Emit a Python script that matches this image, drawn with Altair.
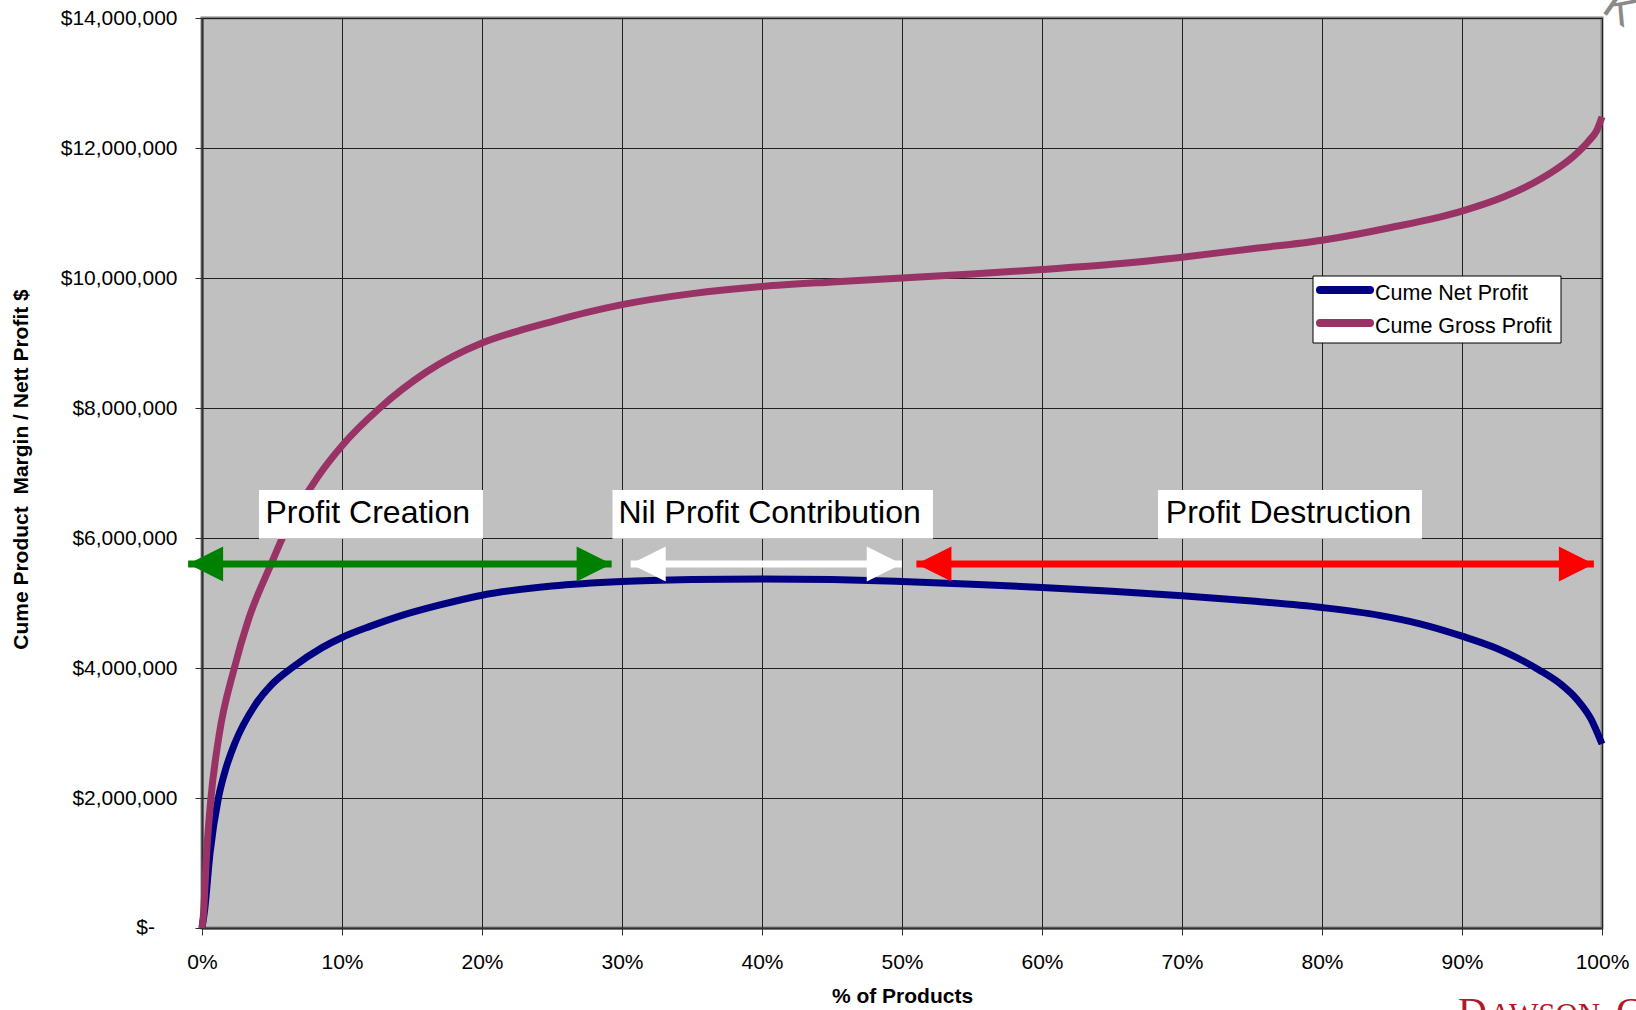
import altair as alt
import pandas as pd

# Products ranked by profitability: cumulative share of products (%) vs cumulative profit ($M)
SERIES = ["Cume Net Profit", "Cume Gross Profit"]
COLORS = ["#000080", "#993366"]

gross_pct = [0, 0.1, 0.33, 0.64, 1.21, 2.31, 3.31, 4.98, 5.74, 8.3, 10, 12.7, 16, 20,
             22.5, 25, 27.5, 30, 35, 40, 45, 50, 55, 60, 65, 70, 75, 80, 85, 90,
             93, 95, 96.5, 98, 99.1, 99.6, 100]
gross_profit = [0, 0.2, 1.15, 2.0, 2.95, 4.0, 4.74, 5.62, 6.0, 6.95, 7.42, 8.0, 8.55, 9.0,
                9.18, 9.33, 9.47, 9.59, 9.76, 9.87, 9.94, 10.0, 10.06, 10.13, 10.21, 10.32,
                10.45, 10.58, 10.78, 11.03, 11.25, 11.45, 11.64, 11.88, 12.12, 12.26, 12.48]

net_pct = [0, 0.2, 0.57, 1.17, 1.7, 2.36, 3.79, 5.0, 6.4, 8.55, 10, 12, 14, 17, 20, 25, 30, 35,
           40, 45, 50, 55, 60, 65, 70, 75, 80, 84.1, 87, 90, 92.5, 94, 95.5, 97, 98.2, 99.2, 100]
net_profit = [0, 0.3, 1.15, 2.0, 2.45, 2.85, 3.43, 3.75, 4.0, 4.31, 4.47, 4.64, 4.79, 4.97,
              5.12, 5.26, 5.33, 5.36, 5.37, 5.36, 5.33, 5.29, 5.24, 5.18, 5.11, 5.03, 4.93,
              4.81, 4.68, 4.49, 4.30, 4.15, 3.97, 3.76, 3.52, 3.22, 2.83]

# Region annotations: label, arrow extent and box extent (% of products), colour
region_labels = ["Profit Creation", "Nil Profit Contribution", "Profit Destruction"]
region_label_at = [11.84, 40.54, 77.61]
region_arrow_from = [-0.99, 30.62, 51.03]
region_arrow_to = [29.26, 49.98, 99.42]
region_colors = ["#008000", "#FFFFFF", "#FF0000"]
region_box_from = [4.07, 29.32, 68.29]
region_box_to = [20.07, 52.21, 87.14]
ARROW_LEVEL = 5.6e6
BOX_BOTTOM, BOX_TOP, LABEL_BASE = 5.99e6, 6.74e6, 6.225e6

FONT = "Liberation Sans"

rows = []
for name, xs, ys in [(SERIES[0], net_pct, net_profit), (SERIES[1], gross_pct, gross_profit)]:
    for p, v in zip(xs, ys):
        rows.append({"series": name, "pct": p / 100, "profit": v * 1e6})
curves = pd.DataFrame(rows)

x_axis = alt.Axis(
    values=[i / 10 for i in range(11)], format=".0%", title="% of Products",
    titleX=700, titleY=68, titleBaseline="middle", titleAlign="center",
    labelPadding=16, labelFlush=False,
)
y_axis = alt.Axis(
    values=[i * 2_000_000 for i in range(8)],
    labelExpr="datum.value == 0 ? '' : '$' + format(datum.value, ',')",
    title="Cume Product \u00a0Margin / Nett Profit $",
    titleX=-181, titleY=451, titleAngle=-90, titleBaseline="middle", titleAlign="center",
    labelPadding=18, labelFlush=False,
)
x_scale = alt.Scale(domain=[0, 1], nice=False, zero=False)
y_scale = alt.Scale(domain=[0, 14_000_000], nice=False)

lines = alt.Chart(curves).mark_line(strokeWidth=7, interpolate="monotone").encode(
    x=alt.X("pct:Q", scale=x_scale, axis=x_axis),
    y=alt.Y("profit:Q", scale=y_scale, axis=y_axis),
    color=alt.Color("series:N", scale=alt.Scale(domain=SERIES, range=COLORS), legend=None),
    order=alt.Order("pct:Q"),
)

# Accounting-style zero label, set in from the other tick labels
zero_label = alt.Chart(alt.Data(values=[{"v": 0}])).mark_text(
    font=FONT, fontSize=21, align="right", baseline="middle", color="black"
).encode(x=alt.value(-47), y=alt.Y("v:Q"), text=alt.value("$-"))

regions = pd.DataFrame({
    "label": region_labels,
    "lc": [v / 100 for v in region_label_at],
    "a0": [v / 100 for v in region_arrow_from],
    "a1": [v / 100 for v in region_arrow_to],
    "b0": [v / 100 for v in region_box_from],
    "b1": [v / 100 for v in region_box_to],
    "colour": region_colors,
})
regions["lvl"] = ARROW_LEVEL
regions["bb"] = BOX_BOTTOM
regions["bt"] = BOX_TOP
regions["lb"] = LABEL_BASE

boxes = alt.Chart(regions).mark_rect(fill="white").encode(
    x="b0:Q", x2="b1", y="bb:Q", y2="bt"
)
labels = alt.Chart(regions).mark_text(
    font=FONT, fontSize=32, align="center", baseline="alphabetic", color="black"
).encode(x="lc:Q", y="lb:Q", text="label:N")

shafts = alt.Chart(regions).mark_rule(strokeWidth=7).encode(
    x="a0:Q", x2="a1", y="lvl:Q", color=alt.Color("colour:N", scale=None)
)
RIGHT_HEAD = "M0,0 L-2,-1 L-2,1 Z"
LEFT_HEAD = "M0,0 L2,-1 L2,1 Z"
head_r = alt.Chart(regions).mark_point(
    shape=RIGHT_HEAD, size=1225, filled=True, opacity=1, strokeWidth=0
).encode(x="a1:Q", y="lvl:Q", color=alt.Color("colour:N", scale=None))
head_l = alt.Chart(regions).mark_point(
    shape=LEFT_HEAD, size=1225, filled=True, opacity=1, strokeWidth=0
).encode(x="a0:Q", y="lvl:Q", color=alt.Color("colour:N", scale=None))

# Legend box in the upper right of the plot
one = alt.Data(values=[{"k": 1}])
legend_layers = [
    alt.Chart(one).mark_rect(fill="white", stroke="black", strokeWidth=1).encode(
        x=alt.value(1111), x2=alt.value(1359), y=alt.value(258), y2=alt.value(325)
    )
]
for i, (name, col) in enumerate(zip(SERIES, COLORS)):
    yy = 272 + i * 33
    legend_layers.append(
        alt.Chart(one).mark_rule(strokeWidth=8, strokeCap="round", color=col).encode(
            x=alt.value(1118), x2=alt.value(1168), y=alt.value(yy)
        )
    )
    legend_layers.append(
        alt.Chart(one).mark_text(
            font=FONT, fontSize=21.5, align="left", baseline="middle", color="black"
        ).encode(x=alt.value(1173), y=alt.value(yy + 4), text=alt.value(name))
    )

# Company mark along the lower right edge
brand = [
    alt.Chart(one).mark_text(
        font="Liberation Serif", fontSize=40, align="left", baseline="alphabetic", color="#B0182C"
    ).encode(x=alt.value(1256), y=alt.value(1007), text=alt.value("D")),
    alt.Chart(one).mark_text(
        font="Liberation Serif", fontSize=31, align="left", baseline="alphabetic", color="#B0182C"
    ).encode(x=alt.value(1287), y=alt.value(1007), text=alt.value("AWSON")),
    alt.Chart(one).mark_text(
        font="Liberation Serif", fontSize=40, align="left", baseline="alphabetic", color="#B0182C"
    ).encode(x=alt.value(1414), y=alt.value(1007), text=alt.value("C")),
    alt.Chart(one).mark_text(
        font=FONT, fontSize=44, align="center", baseline="middle", color="#8A8A8A", angle=35
    ).encode(x=alt.value(1418), y=alt.value(-9), text=alt.value("K")),
]

chart = alt.layer(
    lines, zero_label, boxes, labels, shafts, head_l, head_r, *legend_layers, *brand
).properties(
    width=1400, height=910,
    autosize=alt.AutoSizeParams(type="none"),
    padding={"left": 202, "top": 18, "right": 34, "bottom": 82},
    background="white",
).configure_view(
    fill="#C0C0C0", stroke="#808080", strokeWidth=3
).configure_axis(
    labelFont=FONT, labelFontSize=21, labelColor="black",
    titleFont=FONT, titleFontSize=21, titleFontWeight="bold", titleColor="black",
    domainColor="#303030", domainWidth=2, tickColor="#303030", tickSize=7, tickWidth=1,
    gridColor="#202020", gridWidth=1, gridOpacity=1,
)

chart.save("out.html", embed_options={"renderer": "svg", "actions": False})
